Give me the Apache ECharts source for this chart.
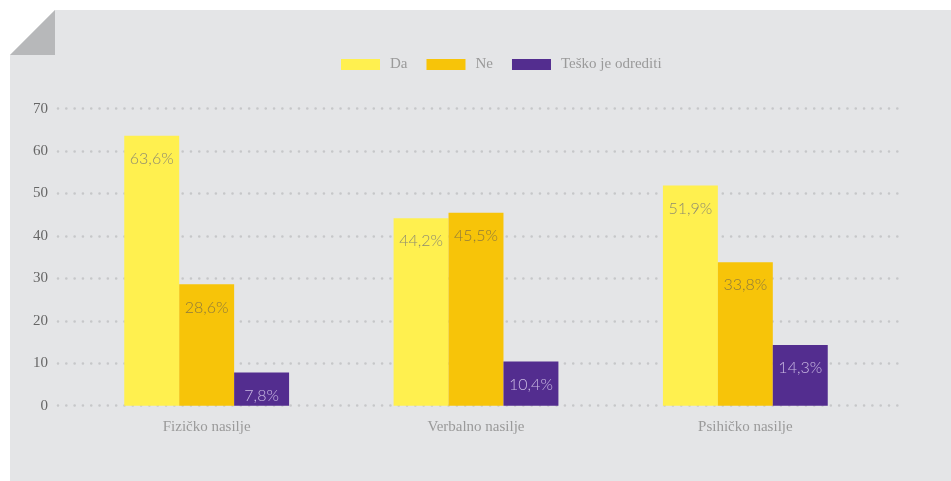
<!DOCTYPE html>
<html>
<head>
<meta charset="utf-8">
<script src="https://cdn.jsdelivr.net/npm/echarts@6/dist/echarts.min.js"></script>
<style>
html,body{margin:0;padding:0;background:#fff;}
#chart{width:951px;height:481px;}
</style>
</head>
<body>
<div id="chart"></div>
<script>
var categories = ['Fizičko nasilje', 'Verbalno nasilje', 'Psihičko nasilje'];
var seriesNames = ['Da', 'Ne', 'Teško je odrediti'];
var daValues = [63.6, 44.2, 51.9];
var neValues = [28.6, 45.5, 33.8];
var teskoValues = [7.8, 10.4, 14.3];
var yTicks = [0, 10, 20, 30, 40, 50, 60, 70];

var colors = ['#FFF04F', '#F7C409', '#532D8F'];
var labelColors = ['#8E8B70', '#8E7A3C', '#C9B9E2'];
var valuesList = [daValues, neValues, teskoValues];

var chart = echarts.init(document.getElementById('chart'));

function fmt(v){ return v.toFixed(1).replace('.', ',') + '%'; }

var series = seriesNames.map(function(name, i){
  return {
    name: name,
    type: 'bar',
    xAxisIndex: 1,
    yAxisIndex: 1,
    barGap: '0%',
    barCategoryGap: '38.8%',
    itemStyle: { color: colors[i] },
    label: {
      show: true,
      position: 'insideTop',
      distance: 15,
      formatter: function(p){ return fmt(p.value); },
      color: labelColors[i],
      fontFamily: 'Lato',
      fontWeight: 300,
      fontSize: 16
    },
    data: valuesList[i]
  };
});

var option = {
  animation: false,
  backgroundColor: '#ffffff',
  graphic: [
    { type: 'polygon', z: -10, silent: true,
      shape: { points: [[55,10],[951,10],[951,481],[10,481],[10,55]] },
      style: { fill: '#E4E5E7' } },
    { type: 'polygon', z: -9, silent: true,
      shape: { points: [[10,55],[55,10],[55,55]] },
      style: { fill: '#B7B8BA' } }
  ],
  legend: {
    left: 341,
    top: 57,
    padding: 0,
    itemWidth: 39,
    itemHeight: 11,
    itemGap: 19,
    icon: 'rect',
    data: seriesNames,
    textStyle: {
      color: '#9A9A9A',
      fontFamily: 'Liberation Serif',
      fontSize: 15,
      padding: [0, 0, 0, 5]
    }
  },
  grid: [
    { left: 58, right: 46, top: 108.7, bottom: 75.3 },
    { left: 72, right: 71, top: 108.7, bottom: 75.3 }
  ],
  xAxis: [
    { gridIndex: 0, type: 'category', data: categories, show: false },
    { gridIndex: 1, type: 'category', data: categories,
      axisLine: { show: false }, axisTick: { show: false },
      axisLabel: { color: '#9A9A9A', fontFamily: 'Liberation Serif', fontSize: 15, margin: 14 } }
  ],
  yAxis: [
    { gridIndex: 0, type: 'value', min: yTicks[0], max: yTicks[yTicks.length-1], interval: 10,
      axisLine: { show: false }, axisTick: { show: false },
      axisLabel: { color: '#666666', fontFamily: 'Liberation Serif', fontSize: 15, margin: 10 },
      splitLine: { show: true, lineStyle: { color: '#C6C7C9', type: [0.01, 8.3], width: 2.6, cap: 'round' } } },
    { gridIndex: 1, type: 'value', min: yTicks[0], max: yTicks[yTicks.length-1], interval: 10,
      show: false, splitLine: { show: false } }
  ],
  series: series
};
chart.setOption(option);
</script>
</body>
</html>
